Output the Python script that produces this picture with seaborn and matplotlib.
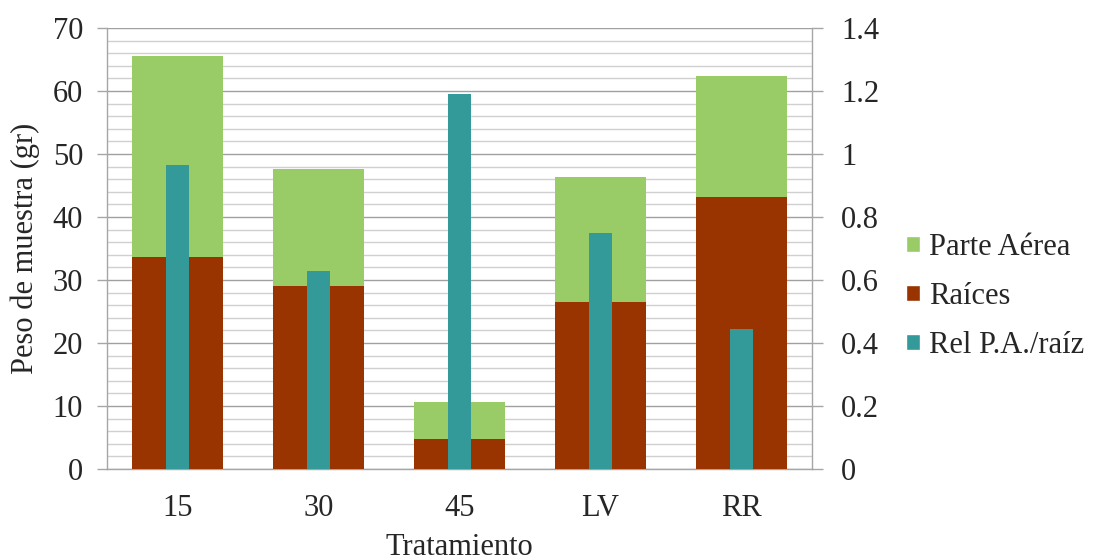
import matplotlib
matplotlib.use("Agg")
import matplotlib.pyplot as plt
from matplotlib.patches import Patch
from matplotlib.ticker import MultipleLocator
import numpy as np
import pandas as pd
import seaborn as sns

# Treatments and measured weights (g)
tratamientos = ["15", "30", "45", "LV", "RR"]
raices = [33.6, 29.1, 4.8, 26.5, 43.1]
parte_aerea = [32.0, 18.5, 5.8, 19.8, 19.3]
rel_pa_raiz = [0.965, 0.63, 1.19, 0.748, 0.444]

left_ticks = [0, 10, 20, 30, 40, 50, 60, 70]
right_ticks = [0, 0.2, 0.4, 0.6, 0.8, 1.0, 1.2, 1.4]
right_tick_labels = ["0", "0.2", "0.4", "0.6", "0.8", "1", "1.2", "1.4"]

C_AEREA = "#99CC66"
C_RAIZ = "#993300"
C_REL = "#339999"
GRID_MAJOR = "#a0a0a0"
GRID_MINOR = "#d0d0d0"
AXIS_GRAY = "#a6a6a6"

sns.set_theme(style="white")
plt.rcParams["font.family"] = ["Liberation Serif", "DejaVu Serif"]
plt.rcParams["font.size"] = 22

df = pd.DataFrame({
    "Tratamiento": tratamientos,
    "Raices": raices,
    "Aerea": parte_aerea,
    "Rel": rel_pa_raiz,
})
df["Total"] = df["Raices"] + df["Aerea"]

fig = plt.figure(figsize=(10.96, 5.6), dpi=100)
ax = fig.add_axes([107 / 1096, 1 - 469 / 560, (812 - 107) / 1096, (469 - 28) / 560])

# Stacked columns: total (aerial part on top) drawn first, roots over it
sns.barplot(data=df, x="Tratamiento", y="Total", color=C_AEREA, saturation=1,
            width=0.64, errorbar=None, ax=ax, zorder=2, linewidth=0)
sns.barplot(data=df, x="Tratamiento", y="Raices", color=C_RAIZ, saturation=1,
            width=0.64, errorbar=None, ax=ax, zorder=3, linewidth=0)

ax.set_ylim(0, 70)
ax.set_xlim(-0.5, 4.5)
ax.yaxis.set_major_locator(MultipleLocator(10))
ax.yaxis.set_minor_locator(MultipleLocator(2))
ax.set_yticks(left_ticks)
ax.grid(False)
ax.grid(True, axis="y", which="minor", color=GRID_MINOR, linewidth=1.0, zorder=0)
ax.grid(True, axis="y", which="major", color=GRID_MAJOR, linewidth=1.0, zorder=0)
ax.set_axisbelow(True)

for side in ["top", "right"]:
    ax.spines[side].set_visible(False)
for side in ["left", "bottom"]:
    ax.spines[side].set_color(AXIS_GRAY)
    ax.spines[side].set_linewidth(1.0)

ax.tick_params(axis="y", which="major", direction="out", length=7.2, width=1.0,
               color=AXIS_GRAY, pad=10, labelsize=22, left=True)
ax.tick_params(axis="y", which="minor", length=0)
ax.tick_params(axis="x", length=0, pad=18, labelsize=22)
ax.set_ylabel("Peso de muestra (gr)", fontsize=22, labelpad=9)

# Ratio on the secondary axis
ax2 = ax.twinx()
sns.barplot(data=df, x="Tratamiento", y="Rel", color=C_REL, saturation=1,
            width=0.17, errorbar=None, ax=ax2, zorder=4, linewidth=0)
ax2.set_ylim(0, 1.4)
ax2.set_xlim(-0.5, 4.5)
ax2.set_yticks(right_ticks)
ax2.set_yticklabels(right_tick_labels)
ax2.set_ylabel("")
ax2.set_xlabel("")
ax2.grid(False)
ax2.patch.set_visible(False)
for side in ["top", "left", "bottom"]:
    ax2.spines[side].set_visible(False)
ax2.spines["right"].set_color(AXIS_GRAY)
ax2.spines["right"].set_linewidth(1.0)
ax2.tick_params(axis="y", direction="out", length=7.8, width=1.0,
                color=AXIS_GRAY, pad=13, labelsize=22, right=True)
ax.set_xlabel("Tratamiento", fontsize=22, labelpad=7)

handles = [Patch(facecolor=C_AEREA, label="Parte Aérea"),
           Patch(facecolor=C_RAIZ, label="Raíces"),
           Patch(facecolor=C_REL, label="Rel P.A./raíz")]
fig.legend(handles=handles, loc="upper left", bbox_to_anchor=(906 / 1096, 1 - 233 / 560),
           frameon=False, fontsize=22, handlelength=0.46, handleheight=0.46,
           handletextpad=0.3, labelspacing=0.65, borderaxespad=0, borderpad=0)

fig.savefig("out.png", dpi=100)
